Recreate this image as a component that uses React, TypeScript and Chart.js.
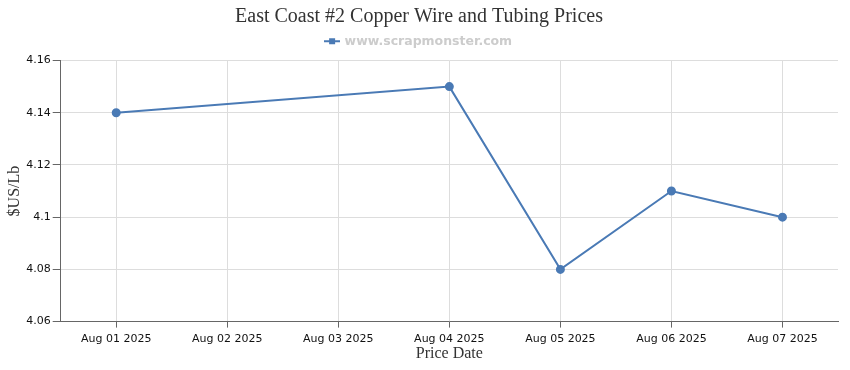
import React, { useEffect, useRef } from "react";
import { Chart, registerables } from "chart.js";

Chart.register(...registerables);

const categories = ["Aug 01 2025", "Aug 02 2025", "Aug 03 2025", "Aug 04 2025", "Aug 05 2025", "Aug 06 2025", "Aug 07 2025"];
const prices: (number | null)[] = [4.14, null, null, 4.15, 4.08, 4.11, 4.10];
const seriesName = "www.scrapmonster.com";
const titleText = "East Coast #2 Copper Wire and Tubing Prices";
const yTitle = "$US/Lb";
const xTitle = "Price Date";

const BLUE = "#4a7ab5";

function legendIcon(): HTMLCanvasElement {
  const c = document.createElement("canvas");
  c.width = 16;
  c.height = 8;
  const ctx = c.getContext("2d")!;
  ctx.strokeStyle = BLUE;
  ctx.lineWidth = 2;
  ctx.beginPath();
  ctx.moveTo(0, 4);
  ctx.lineTo(16, 4);
  ctx.stroke();
  ctx.fillStyle = BLUE;
  ctx.fillRect(5, 1, 6, 6);
  return c;
}

const legendMargin = {
  id: "legendMargin",
  beforeInit(chart: any) {
    const orig = chart.legend.fit;
    chart.legend.fit = function () {
      orig.bind(chart.legend)();
      this.height += 3;
    };
  },
};

export default function App() {
  const ref = useRef<HTMLCanvasElement>(null);
  useEffect(() => {
    document.body.style.margin = "0";
    if (!ref.current) return;
    const icon = legendIcon();
    const chart = new Chart(ref.current, {
      type: "line",
      plugins: [legendMargin],
      data: {
        labels: categories,
        datasets: [
          {
            label: seriesName,
            data: prices,
            borderColor: BLUE,
            backgroundColor: BLUE,
            pointBackgroundColor: BLUE,
            pointBorderColor: BLUE,
            pointRadius: 3.5,
            borderWidth: 2,
            spanGaps: true,
            tension: 0,
          },
        ],
      },
      options: {
        animation: false,
        responsive: true,
        maintainAspectRatio: false,
        layout: { padding: { left: 0, right: 12, top: 0, bottom: 7 } },
        plugins: {
          title: {
            display: true,
            text: titleText,
            color: "#333333",
            font: { family: "'Liberation Serif', serif", size: 20, weight: "normal" },
            padding: { top: 5, bottom: -2 },
          },
          legend: {
            display: true,
            labels: {
              color: "#cccccc",
              font: { family: "'DejaVu Sans', sans-serif", size: 12.5, weight: "bold" },
              usePointStyle: true,
              boxWidth: 16,
              boxHeight: 8,
              padding: 8,
              generateLabels: () => [
                {
                  text: seriesName,
                  pointStyle: icon,
                  fillStyle: BLUE,
                  strokeStyle: BLUE,
                  lineWidth: 0,
                  hidden: false,
                  datasetIndex: 0,
                  fontColor: "#cccccc",
                } as any,
              ],
            },
          },
          tooltip: { enabled: false },
        },
        scales: {
          x: {
            offset: true,
            grid: { color: "#dddddd", tickColor: "#666666", tickLength: 6, offset: false },
            border: { color: "#666666" },
            ticks: {
              color: "#111111",
              font: { family: "'DejaVu Sans', sans-serif", size: 11 },
              maxRotation: 0,
              autoSkip: false,
              padding: 5,
            },
            title: {
              display: true,
              text: xTitle,
              color: "#333333",
              font: { family: "'Liberation Serif', serif", size: 16 },
              padding: { top: -7, bottom: 0 },
            },
          },
          y: {
            min: 4.06,
            max: 4.16,
            grid: { color: "#dddddd", tickColor: "#666666", tickLength: 8 },
            border: { color: "#666666" },
            ticks: {
              stepSize: 0.02,
              color: "#111111",
              font: { family: "'DejaVu Sans', sans-serif", size: 11 },
              padding: 2,
              callback: (v: any) => String(parseFloat(Number(v).toFixed(2))),
            },
            title: {
              display: true,
              text: yTitle,
              color: "#333333",
              font: { family: "'Liberation Serif', serif", size: 16 },
              padding: { top: 5, bottom: 0 },
            },
          },
        },
      },
    });
    return () => chart.destroy();
  }, []);
  return (
    <div style={{ width: 850, height: 370, position: "relative" }}>
      <canvas ref={ref} />
    </div>
  );
}
